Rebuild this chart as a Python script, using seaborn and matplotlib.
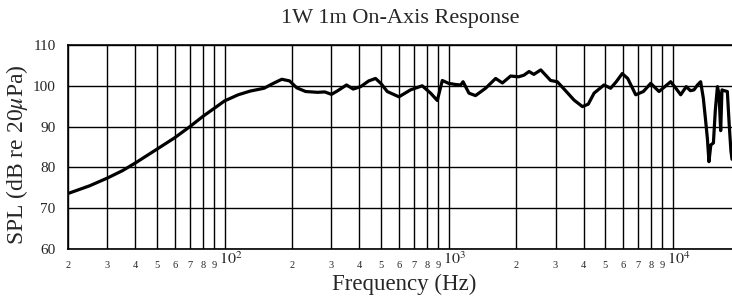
import numpy as np
import pandas as pd
import matplotlib
matplotlib.use("Agg")
import matplotlib.pyplot as plt
import matplotlib.transforms as mtransforms
import seaborn as sns

# on-axis response
freq_hz = [20, 25, 30, 35, 40, 50, 60, 70, 80, 90, 100, 115, 130, 150, 165, 180,
           195, 210, 230, 260, 280, 300, 320, 350, 375, 405, 440, 472, 500, 532,
           600, 676, 762, 831, 890, 937, 1000, 1080, 1132, 1160, 1232, 1318, 1462,
           1621, 1738, 1892, 2050, 2168, 2285, 2400, 2578, 2852, 3055, 3300, 3629,
           3956, 4200, 4458, 4937, 5286, 5600, 5955, 6300, 6839, 7400, 7980, 8690,
           9796, 10300, 10860, 11500, 12000, 12450, 12900, 13330, 13700, 14000,
           14290, 14520, 14800, 15200, 15500, 15840, 16100, 16380, 16600, 17000,
           17540, 17900, 18200, 18400]
spl_db = [73.6, 75.5, 77.4, 79.2, 81.1, 84.5, 87.3, 90.0, 92.5, 94.5, 96.3, 97.8,
          98.7, 99.4, 100.6, 101.6, 101.2, 99.5, 98.6, 98.4, 98.5, 97.9, 98.8,
          100.2, 99.2, 99.8, 101.2, 101.8, 100.5, 98.6, 97.3, 99.0, 100.0, 98.2,
          96.4, 101.3, 100.6, 100.3, 100.2, 101.0, 98.2, 97.6, 99.4, 101.8, 100.7,
          102.4, 102.2, 102.6, 103.5, 102.8, 103.9, 101.3, 101.0, 99.0, 96.5, 94.9,
          95.5, 98.2, 100.2, 99.4, 101.0, 103.0, 101.8, 97.8, 98.6, 100.6, 98.6,
          101.0, 99.5, 97.8, 99.8, 98.8, 99.0, 100.2, 101.0, 97.0, 92.0, 87.0,
          81.4, 85.5, 86.0, 94.0, 99.8, 98.0, 89.0, 99.0, 98.8, 98.6, 90.0, 84.0,
          82.0]

y_ticks = [60, 70, 80, 90, 100, 110]
decades = [100, 1000, 10000]
decade_labels = ["$10^2$", "$10^3$", "$10^4$"]

df = pd.DataFrame({"freq": freq_hz, "spl": spl_db})

sns.set_style("white")
plt.rcParams["font.family"] = ["Liberation Serif", "DejaVu Serif"]
plt.rcParams["mathtext.fontset"] = "stix"

fig = plt.figure(figsize=(7.32, 3.01), dpi=100)
ax = fig.add_axes([68 / 732, 52 / 301, 664 / 732, 204 / 301])

sns.lineplot(data=df, x="freq", y="spl", ax=ax, color="black", linewidth=2.3)
ax.set_xscale("log")
ax.set_xlim(20, 18400)
ax.set_ylim(60, 110)

# minor ticks 2..9 in each decade get plain digit labels
minor = [m * d for d in [10, 100, 1000, 10000] for m in range(2, 10)
         if 20 <= m * d <= 18400]
ax.set_xticks(decades)
ax.set_xticklabels(decade_labels, fontsize=11.5)
ax.set_xticks(minor, minor=True)
ax.set_xticklabels([str(v)[0] for v in minor], minor=True, fontsize=7.5)
ax.set_yticks(y_ticks)
ax.set_yticklabels([str(v) for v in y_ticks], fontsize=11)

ax.tick_params(axis="x", which="major", length=0, pad=2)
ax.tick_params(axis="x", which="minor", length=0, pad=9)
ax.tick_params(axis="y", length=0, pad=9)

# decade labels sit a little right of their grid line in the original
shift = mtransforms.ScaledTranslation(6 / 100, 0, fig.dpi_scale_trans)
for lab in ax.get_xticklabels():
    lab.set_transform(lab.get_transform() + shift)

ax.grid(True, which="both", axis="x", color="black", linewidth=1.0)
ax.grid(True, which="major", axis="y", color="black", linewidth=1.0)
for side in ["left", "top", "bottom"]:
    ax.spines[side].set_color("black")
    ax.spines[side].set_linewidth(1.2)
ax.spines["right"].set_visible(False)

ax.set_title("1W 1m On-Axis Response", fontsize=16, pad=16)
ax.set_xlabel("Frequency (Hz)", fontsize=16.5)
ax.xaxis.set_label_coords(0.507, -0.12)
ax.set_ylabel("SPL (dB re 20$\\mu$Pa)", fontsize=17)
ax.yaxis.set_label_coords(-0.057, 0.461)

fig.savefig("out.png", dpi=100)
